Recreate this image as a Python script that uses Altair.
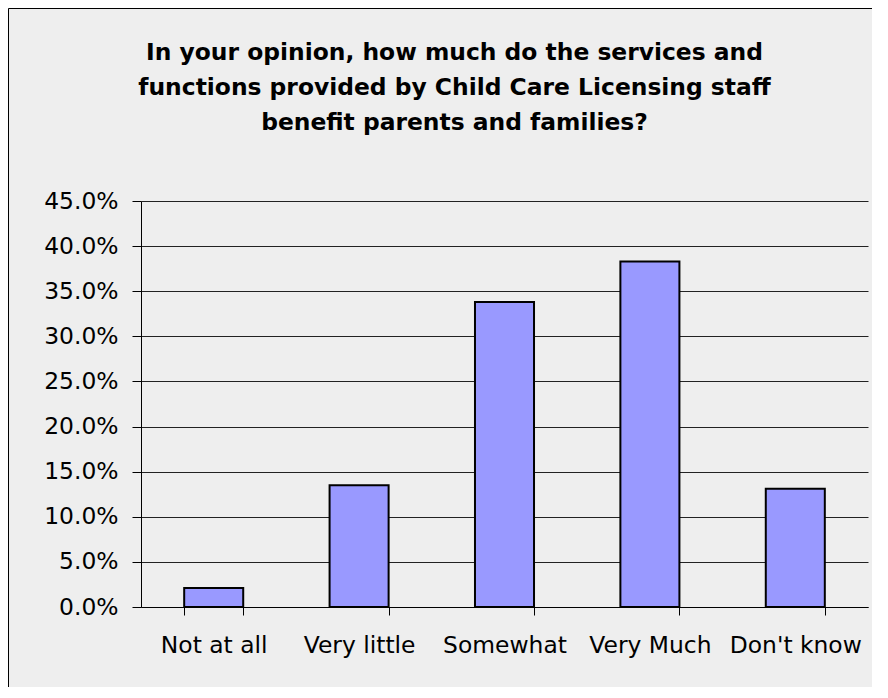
import altair as alt
import pandas as pd

categories = ["Not at all", "Very little", "Somewhat", "Very Much", "Don't know"]
values = [0.021, 0.135, 0.338, 0.383, 0.131]
y_ticks = [0.0, 0.05, 0.10, 0.15, 0.20, 0.25, 0.30, 0.35, 0.40, 0.45]
title_lines = [
    "In your opinion, how much do the services and",
    "functions provided by Child Care Licensing staff",
    "benefit parents and families?",
]

df = pd.DataFrame({"category": categories, "value": values})

W, H = 727, 406
FONT = "DejaVu Sans"

frame = alt.Chart(pd.DataFrame({"a": [0]})).mark_rect(
    fill=None, stroke="black", strokeWidth=1
).encode(
    x=alt.value(-132.5), x2=alt.value(W + 60),
    y=alt.value(-192.5), y2=alt.value(H + 120),
)

bars = alt.Chart(df).mark_bar(
    color="#9999ff", stroke="black", strokeWidth=2
).encode(
    x=alt.X(
        "category:N", sort=categories, title=None,
        scale=alt.Scale(paddingInner=0.594, paddingOuter=0.297),
        axis=alt.Axis(
            labelAngle=0, labelFont=FONT, labelFontSize=23.4, labelColor="black",
            tickBand="extent", tickSize=8, tickColor="black", domainColor="black",
            labelPadding=19, grid=False,
        ),
    ),
    y=alt.Y(
        "value:Q", title=None,
        scale=alt.Scale(domain=[0, 0.45], nice=False),
        axis=alt.Axis(
            values=y_ticks, format=".1%", labelFont=FONT, labelFontSize=23.4,
            labelColor="black", tickSize=9, tickColor="black", domainColor="black",
            labelPadding=14, grid=True, gridColor="#222222", gridWidth=1,
        ),
    ),
)

chart = alt.layer(frame, bars).properties(
    width=W, height=H,
    autosize=alt.AutoSizeParams(type="none"),
    padding={"left": 133, "top": 193, "right": 4, "bottom": 80},
    title=alt.TitleParams(
        text=title_lines, font=FONT, fontSize=23.4, fontWeight="bold",
        color="black", anchor="middle", frame="group", dx=-50,
        offset=-127, lineHeight=35,
    ),
).configure(background="#eeeeee").configure_view(stroke=None)

chart.save("out.html", embed_options={"renderer": "svg", "actions": False})
